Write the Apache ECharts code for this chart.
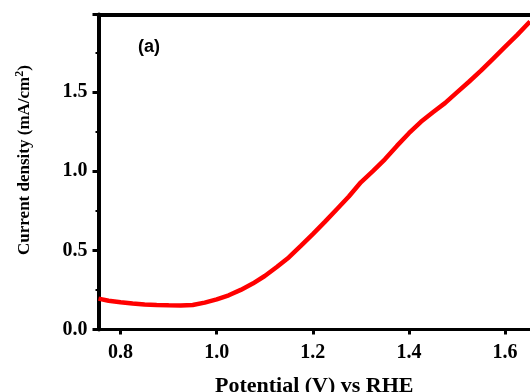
<!DOCTYPE html>
<html>
<head>
<meta charset="utf-8">
<script src="https://cdn.jsdelivr.net/npm/echarts@6/dist/echarts.min.js"></script>
<style>
html,body{margin:0;padding:0;background:#fff;}
#chart{width:530px;height:392px;}
</style>
</head>
<body>
<div id="chart"></div>
<script>
// Data
var potential = [0.754, 0.775, 0.80, 0.825, 0.85, 0.875, 0.90, 0.925, 0.95, 0.975,
  1.00, 1.025, 1.05, 1.075, 1.10, 1.125, 1.15, 1.175, 1.20, 1.225,
  1.25, 1.275, 1.30, 1.325, 1.35, 1.375, 1.40, 1.425, 1.45, 1.475,
  1.50, 1.525, 1.55, 1.575, 1.60, 1.625, 1.652];
var current = [0.195, 0.182, 0.172, 0.164, 0.158, 0.155, 0.153, 0.152, 0.155, 0.170,
  0.190, 0.216, 0.250, 0.290, 0.338, 0.395, 0.455, 0.528, 0.603, 0.680,
  0.760, 0.840, 0.930, 1.000, 1.075, 1.160, 1.240, 1.312, 1.372, 1.430,
  1.498, 1.565, 1.635, 1.710, 1.785, 1.860, 1.945];
var xTicks = [0.8, 1.0, 1.2, 1.4, 1.6];
var xMin = 0.754, xMax = 1.652;
var yMin = 0, yMax = 1.99, yStep = 0.5;
var xTitle = 'Potential (V) vs RHE';
var yTitle = 'Current density (mA/cm';
var panelLabel = '(a)';

var pts = potential.map(function (v, i) { return [v, current[i]]; });
var serif = 'Liberation Serif';

var chart = echarts.init(document.getElementById('chart'), null, {renderer: 'canvas'});
chart.setOption({
  animation: false,
  backgroundColor: '#ffffff',
  grid: {left: 98.5, right: 0, top: 14.5, bottom: 62.5, containLabel: false, outerBoundsMode: 'none'},
  xAxis: [{
    type: 'value', min: xMin, max: xMax, position: 'bottom',
    axisLine: {lineStyle: {color: '#000', width: 3}},
    axisTick: {show: true, inside: false, length: 5, lineStyle: {color: '#000', width: 3}, customValues: xTicks},
    axisLabel: {customValues: xTicks, margin: 13, color: '#000', fontFamily: serif, fontWeight: 'bold', fontSize: 20,
      formatter: function (v) { return v.toFixed(1); }},
    splitLine: {show: false},
    name: xTitle, nameLocation: 'middle', nameGap: 46,
    nameTextStyle: {color: '#000', fontFamily: serif, fontWeight: 'bold', fontSize: 22}
  }, {
    type: 'value', min: xMin, max: xMax, position: 'top',
    axisLine: {show: true, onZero: false, lineStyle: {color: '#000', width: 4}},
    axisTick: {show: false}, axisLabel: {show: false}, splitLine: {show: false}
  }],
  yAxis: {
    type: 'value', min: yMin, max: yMax, interval: yStep,
    axisLine: {show: true, lineStyle: {color: '#000', width: 4}},
    axisTick: {show: true, length: 6, lineStyle: {color: '#000', width: 3}},
    minorTick: {show: true, splitNumber: 2, length: 3, lineStyle: {color: '#000', width: 2}},
    axisLabel: {margin: 11, color: '#000', fontFamily: serif, fontWeight: 'bold', fontSize: 20, showMaxLabel: false,
      formatter: function (v) { return v.toFixed(1); }},
    splitLine: {show: false}
  },
  graphic: [{
    type: 'text', x: 25, y: 160, rotation: Math.PI / 2,
    style: {
      text: '{a|' + yTitle + '}{s|2}{a|)}',
      align: 'center', verticalAlign: 'middle',
      rich: {
        a: {fontFamily: serif, fontWeight: 'bold', fontSize: 17, fill: '#000', lineHeight: 22},
        s: {fontFamily: serif, fontWeight: 'bold', fontSize: 12, fill: '#000', padding: [0, 0, 10, 0]}
      }
    }
  }, {
    type: 'text', x: 149, y: 47,
    style: {text: panelLabel, align: 'center', verticalAlign: 'middle',
      font: 'bold 18px "Liberation Sans"', fill: '#000'}
  }],
  series: [{
    type: 'line', xAxisIndex: 0, data: pts, showSymbol: false, smooth: false,
    lineStyle: {color: '#ff0000', width: 4.5}, clip: true
  }]
});
</script>
</body>
</html>
